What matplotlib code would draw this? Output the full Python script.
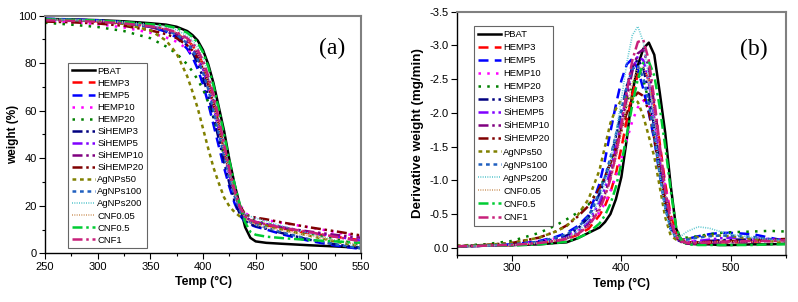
import matplotlib
matplotlib.use("Agg")
import matplotlib.pyplot as plt
from matplotlib.ticker import MultipleLocator, FormatStrFormatter

plt.rcParams['font.family'] = ['Liberation Sans', 'DejaVu Sans']
plt.rcParams['axes.unicode_minus'] = False

# ---- data ----
names = ["PBAT", "HEMP3", "HEMP5", "HEMP10", "HEMP20", "SiHEMP3", "SiHEMP5",
         "SiHEMP10", "SiHEMP20", "AgNPs50", "AgNPs100", "AgNPs200",
         "CNF0.05", "CNF0.5", "CNF1"]

# (a) TGA weight (%)
temp_a = [250, 275, 300, 325, 350, 365, 375, 385, 390, 395, 400, 405, 410,
          415, 420, 425, 430, 435, 440, 445, 450, 460, 475, 500, 525, 550]
weight = {
    "PBAT":     [98.6, 98.4, 98.1, 97.6, 96.8, 96.2, 95.3, 93.5, 91.8, 89.5, 85.5, 79.5, 71.5,
                 61.5, 51.5, 39.5, 29.0, 20.0, 11.0, 6.5, 5.0, 4.4, 4.0, 3.4, 2.9, 2.3],
    "HEMP3":    [98.2, 98.0, 97.6, 96.8, 95.3, 94.0, 92.5, 89.5, 87.5, 84.0, 79.5, 73.0, 64.5,
                 55.0, 44.5, 34.5, 26.0, 19.5, 15.5, 13.8, 12.8, 11.8, 10.5, 8.5, 7.0, 5.5],
    "HEMP5":    [98.7, 98.4, 98.0, 97.2, 95.3, 93.2, 90.8, 86.0, 82.5, 77.5, 71.0, 63.0, 54.0,
                 45.0, 36.0, 28.0, 21.0, 16.0, 13.2, 12.0, 11.2, 10.0, 8.0, 5.3, 3.3, 1.8],
    "HEMP10":   [97.8, 97.2, 96.4, 95.0, 92.8, 90.8, 89.0, 86.0, 84.0, 81.0, 76.5, 70.0, 62.0,
                 53.0, 43.5, 34.5, 26.5, 20.5, 17.0, 15.5, 14.8, 14.0, 12.8, 11.0, 9.0, 7.0],
    "HEMP20":   [97.0, 96.2, 95.2, 93.5, 90.5, 87.0, 84.0, 79.5, 76.5, 73.0, 69.0, 63.5, 57.0,
                 49.5, 41.0, 32.5, 25.0, 19.5, 16.0, 14.5, 13.5, 12.5, 11.0, 8.5, 6.0, 3.5],
    "SiHEMP3":  [98.5, 98.2, 97.8, 97.0, 95.3, 93.5, 91.5, 87.5, 84.5, 80.0, 74.0, 66.5, 57.5,
                 48.0, 38.5, 29.5, 22.0, 16.5, 13.5, 12.3, 11.5, 10.3, 8.5, 5.8, 3.8, 2.2],
    "SiHEMP5":  [98.4, 98.1, 97.7, 97.0, 95.6, 94.0, 92.3, 88.8, 86.3, 82.5, 77.5, 70.5, 61.5,
                 52.0, 42.5, 33.0, 25.0, 18.8, 15.0, 13.8, 13.2, 12.3, 11.0, 9.0, 7.2, 5.3],
    "SiHEMP10": [98.2, 97.9, 97.5, 96.7, 95.2, 93.8, 92.2, 89.2, 87.0, 83.8, 79.0, 72.5, 64.0,
                 54.5, 44.5, 34.5, 26.0, 19.5, 15.5, 13.8, 13.0, 12.0, 10.8, 9.2, 7.8, 6.5],
    "SiHEMP20": [97.5, 97.2, 96.7, 95.7, 93.8, 92.2, 90.5, 87.5, 85.3, 82.0, 77.5, 71.0, 62.5,
                 53.0, 43.5, 34.0, 26.0, 20.0, 16.5, 15.5, 15.0, 14.3, 13.0, 11.0, 9.3, 7.5],
    "AgNPs50":  [98.4, 98.1, 97.6, 96.5, 93.8, 89.5, 84.0, 74.5, 68.0, 61.0, 52.5, 44.0, 36.0,
                 29.5, 23.5, 19.8, 17.3, 15.5, 14.3, 13.5, 12.8, 11.7, 10.0, 7.5, 5.0, 2.8],
    "AgNPs100": [98.5, 98.2, 97.8, 97.0, 95.4, 93.8, 92.0, 88.3, 85.5, 81.5, 76.0, 69.0, 60.0,
                 50.5, 41.0, 32.0, 24.0, 18.0, 14.5, 13.0, 12.0, 10.8, 8.8, 6.0, 3.8, 2.0],
    "AgNPs200": [98.5, 98.3, 98.0, 97.4, 96.2, 95.2, 94.0, 91.5, 89.5, 86.5, 82.0, 75.5, 67.0,
                 57.0, 46.0, 35.0, 26.0, 19.5, 16.5, 15.5, 14.8, 13.5, 11.5, 8.5, 5.5, 3.0],
    "CNF0.05":  [98.3, 98.1, 97.7, 97.0, 95.6, 94.3, 92.8, 89.8, 87.5, 84.0, 79.0, 72.0, 63.0,
                 53.0, 43.0, 33.5, 25.5, 19.0, 15.0, 13.0, 12.0, 10.8, 9.5, 7.5, 5.5, 3.5],
    "CNF0.5":   [98.4, 98.2, 97.9, 97.3, 96.4, 95.7, 94.8, 92.8, 91.0, 88.6, 84.5, 78.5, 70.5,
                 60.5, 50.0, 39.0, 29.0, 20.5, 13.0, 9.0, 7.8, 7.0, 6.4, 5.6, 5.0, 4.4],
    "CNF1":     [98.0, 97.8, 97.4, 96.7, 95.5, 94.4, 93.0, 90.5, 88.5, 85.5, 81.0, 74.5, 66.5,
                 56.5, 46.0, 35.5, 26.5, 19.5, 15.5, 14.0, 13.2, 12.2, 10.8, 9.0, 7.0, 5.0],
}

# (b) DTG derivative weight (mg/min)
temp_b = [250, 275, 300, 325, 340, 350, 360, 370, 380, 385, 390, 395, 400, 405, 410, 415,
          420, 425, 430, 435, 440, 445, 450, 455, 460, 470, 480, 490, 500, 520, 535, 550]
deriv = {
    "PBAT":     [-0.02, -0.03, -0.04, -0.05, -0.07, -0.08, -0.14, -0.22, -0.30, -0.38, -0.50, -0.72, -1.05, -1.62, -2.30, -2.70,
                 -2.95, -3.04, -2.86, -2.30, -1.70, -0.92, -0.28, -0.10, -0.06, -0.05, -0.05, -0.04, -0.04, -0.05, -0.05, -0.06],
    "HEMP3":    [-0.02, -0.03, -0.04, -0.07, -0.10, -0.13, -0.19, -0.28, -0.48, -0.62, -0.82, -1.10, -1.48, -1.90, -2.28, -2.56,
                 -2.64, -2.50, -2.10, -1.55, -0.95, -0.48, -0.20, -0.10, -0.07, -0.06, -0.07, -0.08, -0.08, -0.09, -0.10, -0.11],
    "HEMP5":    [-0.02, -0.03, -0.05, -0.10, -0.16, -0.22, -0.32, -0.48, -0.95, -1.30, -1.72, -2.12, -2.48, -2.72, -2.80, -2.65,
                 -2.35, -2.00, -1.60, -1.08, -0.60, -0.28, -0.15, -0.12, -0.13, -0.17, -0.20, -0.22, -0.22, -0.20, -0.15, -0.10],
    "HEMP10":   [-0.02, -0.03, -0.05, -0.09, -0.14, -0.18, -0.25, -0.35, -0.52, -0.66, -0.84, -1.06, -1.32, -1.60, -1.88, -2.08,
                 -2.18, -2.12, -1.85, -1.42, -0.92, -0.48, -0.22, -0.12, -0.10, -0.10, -0.10, -0.10, -0.10, -0.11, -0.12, -0.12],
    "HEMP20":   [-0.03, -0.05, -0.10, -0.22, -0.33, -0.42, -0.52, -0.64, -0.88, -1.05, -1.26, -1.52, -1.82, -2.14, -2.42, -2.55,
                 -2.48, -2.18, -1.72, -1.18, -0.70, -0.36, -0.20, -0.15, -0.15, -0.17, -0.20, -0.22, -0.23, -0.24, -0.25, -0.24],
    "SiHEMP3":  [-0.02, -0.03, -0.04, -0.08, -0.13, -0.18, -0.28, -0.45, -0.80, -1.02, -1.30, -1.65, -2.02, -2.40, -2.68, -2.79,
                 -2.66, -2.30, -1.78, -1.18, -0.64, -0.30, -0.13, -0.08, -0.07, -0.08, -0.10, -0.11, -0.12, -0.12, -0.12, -0.12],
    "SiHEMP5":  [-0.02, -0.03, -0.04, -0.07, -0.11, -0.15, -0.23, -0.38, -0.68, -0.88, -1.14, -1.48, -1.88, -2.30, -2.64, -2.84,
                 -2.78, -2.45, -1.92, -1.30, -0.72, -0.33, -0.14, -0.09, -0.08, -0.10, -0.12, -0.14, -0.15, -0.14, -0.13, -0.12],
    "SiHEMP10": [-0.02, -0.03, -0.04, -0.06, -0.10, -0.14, -0.21, -0.34, -0.60, -0.80, -1.06, -1.40, -1.80, -2.22, -2.62, -2.88,
                 -2.94, -2.66, -2.12, -1.46, -0.84, -0.38, -0.15, -0.08, -0.06, -0.06, -0.07, -0.08, -0.08, -0.09, -0.10, -0.10],
    "SiHEMP20": [-0.02, -0.04, -0.07, -0.15, -0.24, -0.33, -0.46, -0.62, -0.88, -1.05, -1.25, -1.48, -1.74, -2.00, -2.20, -2.30,
                 -2.25, -2.02, -1.62, -1.14, -0.66, -0.32, -0.15, -0.10, -0.08, -0.08, -0.09, -0.10, -0.10, -0.11, -0.12, -0.13],
    "AgNPs50":  [-0.03, -0.04, -0.07, -0.15, -0.24, -0.32, -0.48, -0.72, -1.15, -1.50, -1.85, -2.06, -2.19, -2.24, -2.22, -2.16,
                 -1.95, -1.65, -1.35, -0.90, -0.45, -0.18, -0.12, -0.12, -0.13, -0.16, -0.18, -0.18, -0.17, -0.13, -0.10, -0.08],
    "AgNPs100": [-0.02, -0.03, -0.05, -0.09, -0.15, -0.20, -0.30, -0.46, -0.82, -1.05, -1.34, -1.68, -2.04, -2.40, -2.65, -2.70,
                 -2.52, -2.14, -1.64, -1.08, -0.60, -0.28, -0.15, -0.12, -0.12, -0.15, -0.17, -0.18, -0.18, -0.16, -0.13, -0.10],
    "AgNPs200": [-0.02, -0.03, -0.04, -0.07, -0.11, -0.15, -0.24, -0.40, -0.72, -0.96, -1.28, -1.70, -2.20, -2.75, -3.15, -3.28,
                 -3.05, -2.50, -1.80, -1.10, -0.55, -0.25, -0.15, -0.18, -0.24, -0.31, -0.29, -0.24, -0.20, -0.15, -0.12, -0.10],
    "CNF0.05":  [-0.02, -0.03, -0.04, -0.07, -0.11, -0.14, -0.21, -0.33, -0.58, -0.76, -1.00, -1.32, -1.70, -2.10, -2.45, -2.66,
                 -2.68, -2.45, -2.00, -1.42, -0.84, -0.40, -0.18, -0.10, -0.08, -0.08, -0.08, -0.09, -0.09, -0.09, -0.10, -0.10],
    "CNF0.5":   [-0.02, -0.03, -0.03, -0.05, -0.07, -0.09, -0.14, -0.22, -0.36, -0.48, -0.65, -0.90, -1.25, -1.68, -2.12, -2.50,
                 -2.74, -2.76, -2.55, -2.08, -1.50, -0.85, -0.30, -0.10, -0.05, -0.04, -0.04, -0.04, -0.04, -0.04, -0.05, -0.05],
    "CNF1":     [-0.02, -0.03, -0.04, -0.07, -0.10, -0.13, -0.20, -0.32, -0.56, -0.76, -1.02, -1.38, -1.82, -2.32, -2.78, -3.05,
                 -3.08, -2.78, -2.20, -1.52, -0.86, -0.40, -0.16, -0.09, -0.07, -0.07, -0.08, -0.09, -0.09, -0.10, -0.10, -0.11],
}

# line styles per sample
dash_dot_dot = (0, (4, 1.5, 1, 1.5, 1, 1.5))
styles = {
    "PBAT":     dict(color="black", ls="-", lw=1.8),
    "HEMP3":    dict(color="#FF0000", ls=(0, (4, 2.5)), lw=1.8),
    "HEMP5":    dict(color="#0000FF", ls=(0, (4, 2.5)), lw=1.8),
    "HEMP10":   dict(color="#FF00FF", ls=(0, (1, 2.5)), lw=1.8),
    "HEMP20":   dict(color="#008000", ls=(0, (1, 2.5)), lw=1.8),
    "SiHEMP3":  dict(color="#000080", ls=dash_dot_dot, lw=1.8),
    "SiHEMP5":  dict(color="#8000FF", ls=dash_dot_dot, lw=1.8),
    "SiHEMP10": dict(color="#800080", ls=dash_dot_dot, lw=1.8),
    "SiHEMP20": dict(color="#800000", ls=dash_dot_dot, lw=1.8),
    "AgNPs50":  dict(color="#808000", ls=(0, (1.5, 1.5)), lw=1.8),
    "AgNPs100": dict(color="#2060C0", ls=(0, (1.5, 1.5)), lw=1.8),
    "AgNPs200": dict(color="#60C8D0", ls=(0, (0.6, 0.8)), lw=1.2),
    "CNF0.05":  dict(color="#D2A070", ls=(0, (0.6, 0.8)), lw=1.2),
    "CNF0.5":   dict(color="#00CC33", ls=(0, (4, 1.5, 1, 1.5)), lw=1.8),
    "CNF1":     dict(color="#C8207A", ls=(0, (4, 1.5, 1, 1.5)), lw=1.8),
}

fig = plt.figure(figsize=(7.98, 3.02), dpi=100)
ax1 = fig.add_axes([0.0564, 0.1613, 0.396, 0.787])
ax2 = fig.add_axes([0.5727, 0.1556, 0.412, 0.806])

for n in names:
    ax1.plot(temp_a, weight[n], label=n, **styles[n])
    ax2.plot(temp_b, deriv[n], label=n, **styles[n])


def style_axes(ax):
    for side in ("top", "right"):
        ax.spines[side].set_color("#808080")
        ax.spines[side].set_linewidth(1.5)
    for side in ("left", "bottom"):
        ax.spines[side].set_linewidth(1.0)
    ax.tick_params(which="major", length=4, width=0.8, labelsize=8, pad=2)
    ax.tick_params(which="minor", length=2.5, width=0.8)
    ax.set_xlabel("Temp (°C)", fontsize=8.8, fontweight="bold", labelpad=3)


def add_legend(ax, anchor, spacing):
    leg = ax.legend(loc="upper left", bbox_to_anchor=anchor, fontsize=6.8,
                    handlelength=2.45, handletextpad=0.25, labelspacing=spacing,
                    borderpad=0.4, borderaxespad=0, frameon=True, fancybox=False)
    leg.get_frame().set_edgecolor("#404040")
    leg.get_frame().set_linewidth(0.8)
    return leg


ax1.set_xlim(250, 550)
ax1.set_ylim(0, 100)
ax1.xaxis.set_major_locator(MultipleLocator(50))
ax1.xaxis.set_minor_locator(MultipleLocator(25))
ax1.yaxis.set_major_locator(MultipleLocator(20))
ax1.yaxis.set_minor_locator(MultipleLocator(10))
ax1.set_ylabel("weight (%)", fontsize=8.5, fontweight="bold")
ax1.yaxis.set_label_coords(-0.082, 0.5)
style_axes(ax1)
ax1.text(0.908, 0.86, "(a)", transform=ax1.transAxes, ha="center", va="center",
         fontsize=17, family=["Liberation Serif", "DejaVu Serif"])
add_legend(ax1, (0.0728, 0.801), 0.325)

ax2.set_xlim(250, 550)
ax2.set_ylim(0.108, -3.5)
ax2.xaxis.set_major_locator(MultipleLocator(100))
ax2.xaxis.set_minor_locator(MultipleLocator(50))
ax2.yaxis.set_major_locator(MultipleLocator(0.5))
ax2.yaxis.set_major_formatter(FormatStrFormatter("%.1f"))
ax2.set_ylabel("Derivative weight (mg/min)", fontsize=9.6, fontweight="bold")
ax2.yaxis.set_label_coords(-0.1, 0.5)
style_axes(ax2)
ax2.text(0.903, 0.843, "(b)", transform=ax2.transAxes, ha="center", va="center",
         fontsize=17, family=["Liberation Serif", "DejaVu Serif"])
add_legend(ax2, (0.0517, 0.94), 0.43)

fig.savefig("out.png", dpi=100)
